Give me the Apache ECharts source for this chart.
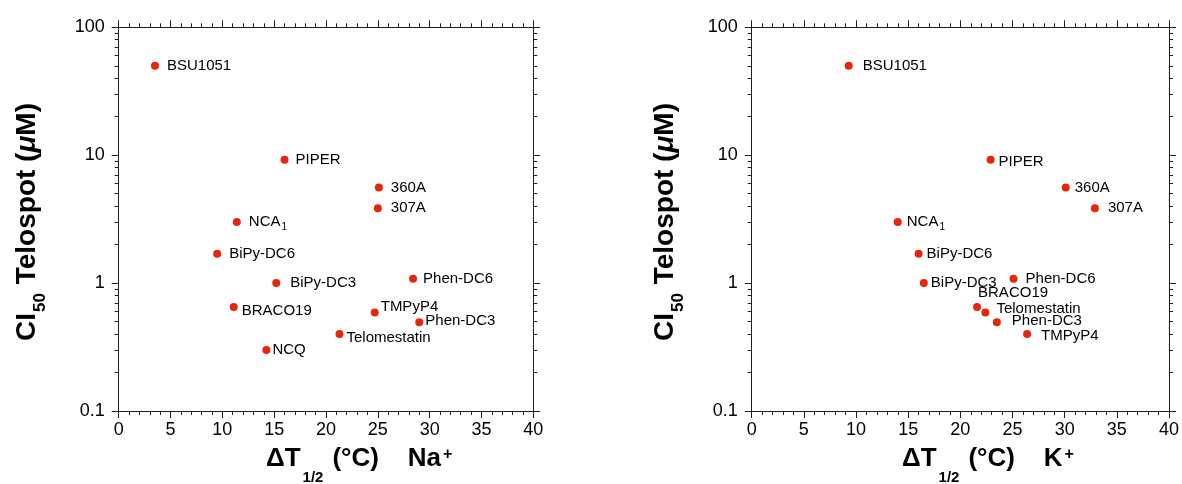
<!DOCTYPE html>
<html>
<head>
<meta charset="utf-8">
<script src="https://cdn.jsdelivr.net/npm/echarts@6/dist/echarts.min.js"></script>
<style>html,body{margin:0;padding:0;background:#fff}#c{width:1182px;height:484px}</style>
</head>
<body>
<div id="c"></div>
<script>
// ---------- data ----------
const xTicks = [0, 5, 10, 15, 20, 25, 30, 35, 40];
const yTicks = [0.1, 1, 10, 100];
const yMinorTicks = [0.2,0.3,0.4,0.5,0.6,0.7,0.8,0.9,2,3,4,5,6,7,8,9,20,30,40,50,60,70,80,90];

const namesNa = ['BSU1051','PIPER','360A','307A','NCA_1','BiPy-DC6','BiPy-DC3','Phen-DC6','BRACO19','TMPyP4','Phen-DC3','Telomestatin','NCQ'];
const dTNa    = [3.5, 16.0, 25.1, 25.0, 11.4, 9.5, 15.2, 28.4, 11.1, 24.7, 29.0, 21.3, 14.25];
const ci50Na  = [50, 9.2, 5.6, 3.85, 3.0, 1.7, 1.0, 1.08, 0.65, 0.59, 0.495, 0.40, 0.30];

const namesK = ['BSU1051','PIPER','360A','307A','NCA_1','BiPy-DC6','BiPy-DC3','Phen-DC6','BRACO19','Telomestatin','Phen-DC3','TMPyP4'];
const dTK    = [9.3, 22.9, 30.1, 32.9, 14.0, 16.0, 16.5, 25.1, 21.6, 22.4, 23.5, 26.4];
const ci50K  = [50, 9.2, 5.6, 3.85, 3.0, 1.7, 1.0, 1.08, 0.65, 0.59, 0.495, 0.40];

const ions = ['Na', 'K'];

// ---------- label placement (style, not data) ----------
const offNa = [[3,0],[2,0],[3,0],[4,0],[3,0],[3,0],[5,0],[1,0],[-1,4],[-3,-6],[-3,-1],[-2,4],[-3,0]];
const offK  = [[5,0],[-1,2],[0,0],[4,0],[0,0],[-1,0],[-2,0],[3,0],[-8,-14],[2,-4],[6,-1],[5,2]];

const FONT = '"Liberation Sans", Arial, Helvetica, sans-serif';
const INK = '#1e1e1e';
const DOT = '#e8250b';

const grids = [
  {left: 118.7, top: 27.3, width: 414.6, height: 383.7},
  {left: 751.7, top: 27.3, width: 418.3, height: 383.7}
];

function xAxesFor(gi) {
  const base = {
    type: 'value', gridIndex: gi,
    min: xTicks[0], max: xTicks[xTicks.length - 1], interval: xTicks[1] - xTicks[0],
    splitLine: {show: false},
    axisLine: {show: true, onZero: false, lineStyle: {color: INK, width: 1}},
    axisTick: {show: true, inside: false, length: 7, lineStyle: {color: INK, width: 1}},
    minorTick: {show: true, splitNumber: 5, length: 4, lineStyle: {color: INK, width: 1}},
    minorSplitLine: {show: false}
  };
  return [
    Object.assign({}, base, {position: 'bottom',
      axisLabel: {show: true, fontSize: 18, color: '#000', fontFamily: FONT, margin: 10,
        formatter: v => String(v)}}),
    Object.assign({}, base, {position: 'top', axisLabel: {show: false}})
  ];
}

function yAxesFor(gi) {
  const major = {
    type: 'log', logBase: 10, gridIndex: gi,
    min: yTicks[0], max: yTicks[yTicks.length - 1],
    splitLine: {show: false},
    axisLine: {show: true, onZero: false, lineStyle: {color: INK, width: 1}},
    axisTick: {show: true, inside: false, length: 7, lineStyle: {color: INK, width: 1}},
    minorTick: {show: false}
  };
  const minor = {
    type: 'value', gridIndex: gi,
    min: Math.log10(yTicks[0]), max: Math.log10(yTicks[yTicks.length - 1]),
    splitLine: {show: false},
    axisLine: {show: false, onZero: false},
    axisLabel: {show: false},
    axisTick: {show: true, inside: false, length: 4, lineStyle: {color: INK, width: 1},
      customValues: yMinorTicks.map(v => Math.log10(v))}
  };
  return [
    Object.assign({}, major, {position: 'left',
      axisLabel: {show: true, fontSize: 18, color: '#000', fontFamily: FONT, margin: 14,
        formatter: v => String(parseFloat(Number(v).toPrecision(6)))}}),
    Object.assign({}, major, {position: 'right', axisLabel: {show: false}}),
    Object.assign({}, minor, {position: 'left'}),
    Object.assign({}, minor, {position: 'right'})
  ];
}

function makeData(names, xs, ys, offs) {
  return names.map((n, i) => ({name: n, value: [xs[i], ys[i]], label: {offset: offs[i]}}));
}

function scatter(gi, data) {
  return {
    type: 'scatter', xAxisIndex: gi * 2, yAxisIndex: gi * 4,
    symbol: 'circle', symbolSize: 8,
    itemStyle: {color: DOT, opacity: 1},
    label: {
      show: true, position: 'right', distance: 5,
      fontSize: 15, color: '#000', fontFamily: FONT,
      formatter: p => p.name.replace(/_(\w+)$/, '{s|$1}'),
      rich: {s: {fontSize: 10, fontFamily: FONT, color: '#000', padding: [10, 0, 0, 1]}}
    },
    emphasis: {disabled: true},
    data: data
  };
}

const titleRichX = {
  m: {fontSize: 26, fontWeight: 'bold', fontFamily: FONT, fill: '#000', color: '#000'},
  s: {fontSize: 15, fontWeight: 'bold', fontFamily: FONT, fill: '#000', color: '#000', padding: [37, 9, 0, 2]},
  p: {fontSize: 16, fontWeight: 'bold', fontFamily: FONT, fill: '#000', color: '#000', padding: [0, 0, 8, 2]}
};
const titleRichY = {
  m: {fontSize: 28, fontWeight: 'bold', fontFamily: FONT, fill: '#000', color: '#000'},
  i: {fontSize: 28, fontWeight: 'bold', fontStyle: 'italic', fontFamily: FONT, fill: '#000', color: '#000'},
  s: {fontSize: 17, fontWeight: 'bold', fontFamily: FONT, fill: '#000', color: '#000', padding: [26, 1, 0, 1]}
};
const xTitle = ion => '{m|ΔT}{s|1/2}{m|(°C)    ' + ion + '}{p|+}';
const yTitle = '{m|CI}{s|50}{m| Telospot (}{i|μ}{m|M)}';

function titleText(x, y, text, rich, rot) {
  return {
    type: 'text', x: x, y: y, rotation: rot || 0, silent: true,
    style: {text: text, rich: rich, fill: '#000', fontFamily: FONT,
      textAlign: rot ? 'center' : 'left', align: rot ? 'center' : 'left',
      textVerticalAlign: 'middle', verticalAlign: 'middle'}
  };
}

const option = {
  animation: false,
  backgroundColor: '#fff',
  grid: grids,
  xAxis: [].concat(xAxesFor(0), xAxesFor(1)),
  yAxis: [].concat(yAxesFor(0), yAxesFor(1)),
  series: [
    scatter(0, makeData(namesNa, dTNa, ci50Na, offNa)),
    scatter(1, makeData(namesK, dTK, ci50K, offK))
  ],
  graphic: [
    titleText(266, 459, xTitle(ions[0]), titleRichX),
    titleText(902, 459, xTitle(ions[1]), titleRichX),
    titleText(27, 222, yTitle, titleRichY, Math.PI / 2),
    titleText(665, 222, yTitle, titleRichY, Math.PI / 2)
  ]
};

const chart = echarts.init(document.getElementById('c'), null, {renderer: 'canvas'});
chart.setOption(option);
</script>
</body>
</html>
